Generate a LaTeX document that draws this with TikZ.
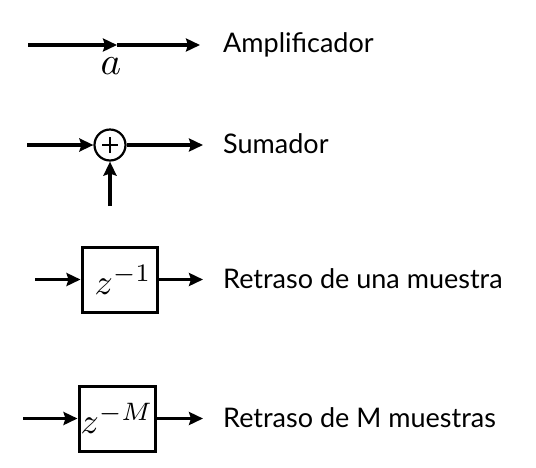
\documentclass[tikz,border=0pt]{standalone}
\usepackage[no-math]{fontspec}
\setmainfont{Lato}
\usetikzlibrary{arrows.meta}
\newcommand{\bigmath}[2][3.6]{\scalebox{#1}{$#2$}}
\begin{document}
\begin{tikzpicture}[x=1pt,y=-1pt,
  conn/.style={line width=3.1pt,-{Stealth[length=14pt,width=13pt,inset=2pt]}},
  lbl/.style={anchor=base west,inner sep=0,font=\fontsize{27}{32}\selectfont},
  mathlbl/.style={inner sep=0},
  delay/.style={draw,line width=3pt,rectangle,minimum width=75pt,minimum height=65pt,inner sep=0},
  sum/.style={draw,circle,line width=2.2pt,minimum size=31pt,inner sep=0,
    path picture={
      \draw[line width=1.4pt] ([xshift=-8pt]path picture bounding box.center) -- ([xshift=8pt]path picture bounding box.center);
      \draw[line width=1.4pt] ([yshift=-8pt]path picture bounding box.center) -- ([yshift=8pt]path picture bounding box.center);
    }}]
\path[use as bounding box] (0,0) rectangle (536,467);

% Amplificador
\coordinate (a0) at (28,45);
\coordinate (am) at (117,45);
\coordinate (a1) at (200,45);
\draw[conn] (a0) -- (am);
\draw[conn] (am) -- (a1);
\node[mathlbl] (ga) at (111,66) {\bigmath[3.9]{a}};
\node[lbl] (t1) at (223,52) {Amplificador};

% Sumador
\node[sum] (s) at (110,145) {};
\coordinate (s0) at (27,145);
\coordinate (s1) at (203,145);
\coordinate (s2) at (110,206);
\draw[conn] (s0) -- (s);
\draw[conn] (s) -- (s1);
\draw[conn] (s2) -- (s);
\node[lbl] (t2) at (223,153) {Sumador};

% Retraso de una muestra
\node[delay] (d1) at (119.5,279.5) {\hspace{7pt}\bigmath{z^{-1}}};
\coordinate (d1a) at (35,279.5);
\coordinate (d1b) at (203,279.5);
\draw[conn] (d1a) -- (d1);
\draw[conn] (d1) -- (d1b);
\node[lbl] (t3) at (223,288) {Retraso de una muestra};

% Retraso de M muestras
\node[delay,minimum width=76pt] (d2) at (117,418.5) {\bigmath{z^{-M}}};
\coordinate (d2a) at (23,418.5);
\coordinate (d2b) at (203,418.5);
\draw[conn] (d2a) -- (d2);
\draw[conn] (d2) -- (d2b);
\node[lbl] (t4) at (223,427) {Retraso de M muestras};
\end{tikzpicture}
\end{document}
